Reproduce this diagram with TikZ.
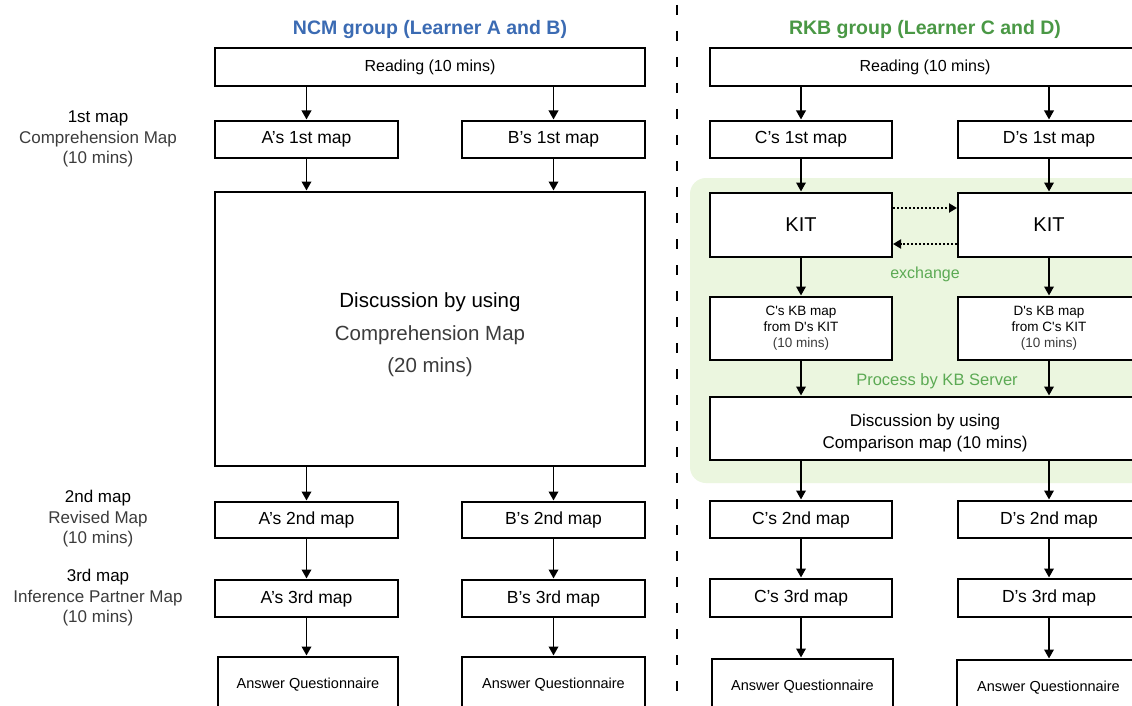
\documentclass[tikz,border=0pt]{standalone}
\usepackage{fontspec}
\setmainfont{Liberation Sans}
\usetikzlibrary{arrows.meta}
\definecolor{ttlblue}{RGB}{59,107,179}
\definecolor{ttlgreen}{RGB}{74,152,69}
\definecolor{lblgreen}{RGB}{92,170,84}
\definecolor{bggreen}{RGB}{235,246,223}
\definecolor{softgray}{RGB}{60,60,60}
\begin{document}
\begin{tikzpicture}[x=1pt,y=-1pt,
  box/.style={draw=black, line width=2pt, fill=white, inner sep=0pt, align=center, text=black},
  arr/.style={line width=1.9pt, -{Triangle[length=9pt,width=9.5pt]}, shorten >=0.5pt},
  dotarr/.style={line width=2pt, dash pattern=on 2.2pt off 1.8pt, -{Triangle[length=8pt,width=9pt]}},
  fs/.style args={#1/#2}{font=\fontsize{#1}{#2}\selectfont},
  side/.style={align=center, inner sep=0pt, fs=17/20.5},
  mapbox/.style={box, minimum width=183pt, fs=17.5/20},
  ansbox/.style={box, fs=14.5/17, minimum height=56pt, anchor=north},
]
\clip (0,0) rectangle (1132,706);
\fill[white] (0,0) rectangle (1132,706);

% divider
\draw[line width=2pt, dash pattern=on 10pt off 16pt] (677,5) -- (677,706);

% titles
\node[text=ttlblue] (tl) at (430,30) {\fontsize{19.5}{22}\selectfont\bfseries NCM group (Learner A and B)};
\node[text=ttlgreen] (tr) at (925,30) {\fontsize{19.5}{22}\selectfont\bfseries RKB group (Learner C and D)};

% side labels
\node[side] (s1) at (98,139) {1st map\\{\color{softgray}Comprehension Map}\\{\color{softgray}(10 mins)}};
\node[side] (s2) at (98,519) {2nd map\\{\color{softgray}Revised Map}\\{\color{softgray}(10 mins)}};
\node[side] (s3) at (98,598) {3rd map\\{\color{softgray}Inference Partner Map}\\{\color{softgray}(10 mins)}};

% ---------- left (NCM) ----------
\node[box, minimum width=430pt, minimum height=38pt, fs=16/19] (readL) at (430,67) {Reading (10 mins)};
\node[mapbox, minimum height=37pt] (a1) at (306.5,139.5) {A’s 1st map};
\node[mapbox, minimum height=37pt] (b1) at (553.5,139.5) {B’s 1st map};
\node[box, minimum width=430pt, minimum height=274pt, fs=20.5/32.5] (discL) at (430,329)
  {\rule{0pt}{27pt}Discussion by using\\{\color{softgray}Comprehension Map}\\{\color{softgray}(20 mins)}};
\node[mapbox, minimum height=36pt] (a2) at (306.5,520) {A’s 2nd map};
\node[mapbox, minimum height=36pt] (b2) at (553.5,520) {B’s 2nd map};
\node[mapbox, minimum height=37pt] (a3) at (306.5,598.5) {A’s 3rd map};
\node[mapbox, minimum height=37pt] (b3) at (553.5,598.5) {B’s 3rd map};
\node[ansbox, minimum width=180pt] (ansA) at (308,656) {Answer Questionnaire};
\node[ansbox, minimum width=183pt] (ansB) at (553.5,656) {Answer Questionnaire};

\draw[arr] (readL.south -| a1.north) -- (a1.north);
\draw[arr] (readL.south -| b1.north) -- (b1.north);
\draw[arr] (a1.south) -- (a1.south |- discL.north);
\draw[arr] (b1.south) -- (b1.south |- discL.north);
\draw[arr] (discL.south -| a2.north) -- (a2.north);
\draw[arr] (discL.south -| b2.north) -- (b2.north);
\draw[arr] (a2.south) -- (a3.north);
\draw[arr] (b2.south) -- (b3.north);
\draw[arr] (a3.south) -- (a3.south |- ansA.north);
\draw[arr] (b3.south) -- (b3.south |- ansB.north);

% ---------- right (RKB) ----------
\fill[bggreen, rounded corners=16pt] (690,178) rectangle (1170,483);

\node[box, minimum width=430pt, minimum height=38pt, fs=16/19] (readR) at (925,67) {Reading (10 mins)};
\node[mapbox, minimum width=182pt, minimum height=37pt] (c1) at (801,139.5) {C’s 1st map};
\node[mapbox, minimum width=182pt, minimum height=37pt] (d1) at (1049,139.5) {D’s 1st map};
\node[box, minimum width=182pt, minimum height=64pt, fs=20/24] (kitC) at (801,225) {KIT};
\node[box, minimum width=182pt, minimum height=64pt, fs=20/24] (kitD) at (1049,225) {KIT};
\node[box, minimum width=182pt, minimum height=63pt, fs=13.5/16] (kbC) at (801,328.5)
  {C\textquotesingle s KB map\\from D\textquotesingle s KIT\\{\color{softgray}(10 mins)}};
\node[box, minimum width=182pt, minimum height=63pt, fs=13.5/16] (kbD) at (1049,328.5)
  {D\textquotesingle s KB map\\from C\textquotesingle s KIT\\{\color{softgray}(10 mins)}};
\node[box, minimum width=430pt, minimum height=63pt, fs=17/22.5] (cmp) at (925,428.5)
  {\rule{0pt}{21.5pt}Discussion by using\\Comparison map (10 mins)};
\node[mapbox, minimum width=182pt, minimum height=37pt] (c2) at (801,519.5) {C’s 2nd map};
\node[mapbox, minimum width=182pt, minimum height=37pt] (d2) at (1049,519.5) {D’s 2nd map};
\node[mapbox, minimum width=182pt, minimum height=38pt] (c3) at (801,598) {C’s 3rd map};
\node[mapbox, minimum width=182pt, minimum height=38pt] (d3) at (1049,598) {D’s 3rd map};
\node[ansbox, minimum width=181pt] (ansC) at (802.5,658) {Answer Questionnaire};
\node[ansbox, minimum width=183pt] (ansD) at (1048.5,659) {Answer Questionnaire};

\node[text=lblgreen, fs=16/19] (exch) at (925,274) {exchange};
\node[text=lblgreen, fs=16.5/19] (proc) at (937,381) {Process by KB Server};

\draw[arr] (readR.south -| c1.north) -- (c1.north);
\draw[arr] (readR.south -| d1.north) -- (d1.north);
\draw[arr] (c1.south) -- (kitC.north);
\draw[arr] (d1.south) -- (kitD.north);
\draw[dotarr] ([yshift=17pt]kitC.east) -- ([yshift=17pt]kitD.west);
\draw[dotarr] ([yshift=-19pt]kitD.west) -- ([yshift=-19pt]kitC.east);
\draw[arr] (kitC.south) -- (kbC.north);
\draw[arr] (kitD.south) -- (kbD.north);
\draw[arr] (kbC.south) -- (kbC.south |- cmp.north);
\draw[arr] (kbD.south) -- (kbD.south |- cmp.north);
\draw[arr] (cmp.south -| c2.north) -- (c2.north);
\draw[arr] (cmp.south -| d2.north) -- (d2.north);
\draw[arr] (c2.south) -- (c3.north);
\draw[arr] (d2.south) -- (d3.north);
\draw[arr] (c3.south) -- (c3.south |- ansC.north);
\draw[arr] (d3.south) -- (d3.south |- ansD.north);
\end{tikzpicture}
\end{document}
